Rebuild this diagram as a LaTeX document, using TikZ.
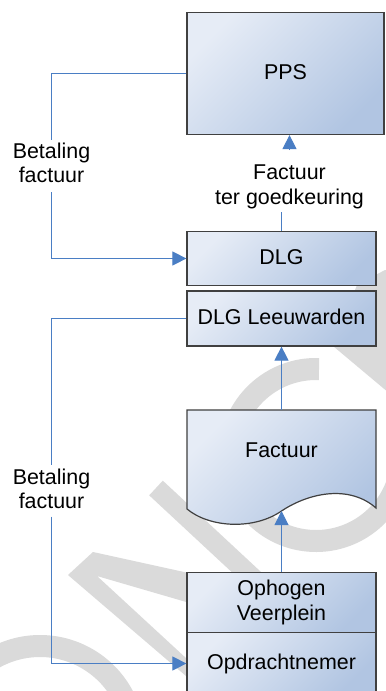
\documentclass[tikz,border=0pt]{standalone}
\usepackage{fontspec}
\setmainfont{Liberation Sans}
\usetikzlibrary{arrows.meta}
\definecolor{boxlight}{HTML}{E6ECF6}
\definecolor{boxdark}{HTML}{B1C5E2}
\definecolor{boxline}{HTML}{404040}
\definecolor{connc}{HTML}{4A7EC4}
\definecolor{wm}{HTML}{DADADA}
\begin{document}
\begin{tikzpicture}[x=1bp,y=-1bp,
  boxfill/.style={draw=boxline, line width=1.2bp, top color=boxlight, bottom color=boxdark, shading angle=45},
  box/.style={boxfill, inner sep=0pt, font=\fontsize{21.5}{25}\selectfont, align=center},
  oneline/.style={text height=14.6pt, text depth=2.6pt},
  conn/.style={color=connc, line width=1bp},
  arr/.style={conn, -{Triangle[length=14bp,width=14bp]}},
  lbl/.style={font=\fontsize{21.5}{25}\selectfont, align=center, inner sep=0pt},
  wmk/.style={draw=wm, line width=22bp}]

\fill[white] (0,0) rectangle (385,691);
\useasboundingbox (0,0) rectangle (385,691);

% watermark
\draw[wmk] (316,455) ++(-88:86) arc[start angle=-88, end angle=-340, radius=86];
\draw[wmk] (40,740) ++(-125:94) arc[start angle=-125, end angle=-20, radius=94];
\fill[wm] (68,575) -- (93,552) -- (200,575.5) -- (200,606) -- (97,576) -- (200,671) -- (200,688) -- cycle;
\draw[wmk, line width=20bp] (156,488) -- (270,594);
\fill[wm] (357,285) -- (385,270) -- (395,270) -- (395,398) -- (333,346) -- cycle;

% boxes
\node[box, oneline, minimum width=197bp, minimum height=122bp] (pps) at (285.5,73.5) {PPS};
\node[box, oneline, minimum width=189bp, minimum height=54.3bp] (dlg) at (281.5,258.5) {DLG};
\node[box, oneline, minimum width=189bp, minimum height=55bp] (dlgl) at (281.5,318.5) {DLG Leeuwarden};
\shade[boxfill] (187,410) -- (376,410) -- (376,508)
  .. controls (350,485) and (310,492) .. (281.5,511)
  .. controls (254,530) and (210,528) .. (187,509) -- cycle;
\node[lbl, text height=14.6pt, text depth=0pt] (fac) at (281.5,450.7) {Factuur};
\coordinate (factop) at (281.5,410);
\coordinate (facbot) at (281.5,511);
\node[box, minimum width=189bp, minimum height=60bp] (oph) at (281.5,602.7) {Ophogen\\Veerplein};
\node[box, oneline, minimum width=189bp, minimum height=62bp] (opd) at (281.5,663.5) {Opdrachtnemer};

% labels
\node[lbl] (bet1) at (51.5,162.8) {Betaling\\factuur};
\node[lbl] (bet2) at (51.5,488.8) {Betaling\\factuur};
\node[lbl] (goed) at (289.5,187.1) {Factuur\\ter goedkeuring};
\coordinate (b1t) at (51.5,140);
\coordinate (b1b) at (51.5,192);
\coordinate (b2t) at (51.5,465);
\coordinate (b2b) at (51.5,516.7);
\coordinate (gt) at (289.5,150);
\coordinate (gb) at (281.5,211.7);

% connectors
\draw[conn] (pps.west) -| (b1t);
\draw[arr] (b1b) |- (dlg.west);
\draw[arr] (gt) -- (gt |- pps.south);
\draw[conn] (dlg.north) -- (gb);
\draw[arr] (factop) -- (dlgl.south);
\draw[conn] (dlgl.west) -| (b2t);
\draw[arr] (b2b) |- (opd.west);
\draw[arr] (oph.north) -- (facbot);
\end{tikzpicture}
\end{document}
